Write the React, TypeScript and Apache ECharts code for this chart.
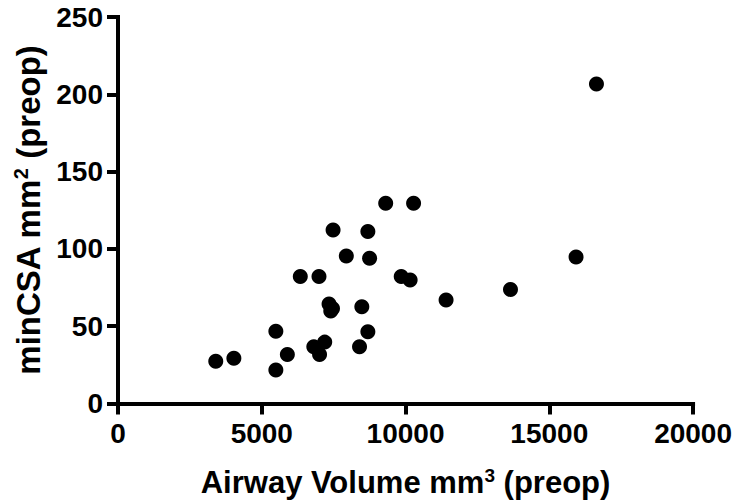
import React, { useEffect, useRef } from "react";
import * as echarts from "echarts";

const airwayVolume = [
  3400, 4030, 5490, 5490, 5890, 6340, 6990, 6810, 7190, 7010,
  7340, 7400, 7460, 7480, 7940, 8480, 8400, 8690, 8690, 8750,
  9310, 10280, 9850, 10160, 11410, 13650, 15930, 16640,
];
const minCSA = [
  27.4, 29.3, 46.8, 21.6, 31.7, 82.1, 82.1, 36.7, 39.7, 31.7,
  64.4, 59.9, 61.5, 112.2, 95.4, 62.6, 36.7, 46.4, 111.2, 93.9,
  129.5, 129.5, 82.1, 79.9, 66.9, 73.8, 94.8, 206.6,
];
const xTicks = { min: 0, max: 20000, interval: 5000 };
const yTicks = { min: 0, max: 250, interval: 50 };

const FONT = '"Liberation Sans", Arial, Helvetica, sans-serif';

export default function App() {
  const ref = useRef<HTMLDivElement>(null);
  useEffect(() => {
    if (!ref.current) return;
    const chart = echarts.init(ref.current, undefined, { renderer: "svg" });
    const points = airwayVolume.map((x, i) => [x, minCSA[i]]);
    const axisCommon = {
      axisLine: { show: true, onZero: false, lineStyle: { color: "#000", width: 4, cap: "square" } },
      axisTick: { show: true, length: 11, lineStyle: { color: "#000", width: 4 } },
      splitLine: { show: false },
      axisLabel: {
        color: "#000",
        fontFamily: FONT,
        fontWeight: "bold",
        fontSize: 28,
        formatter: (v: number) => String(v),
      },
    };
    const richX = {
      a: { fontFamily: FONT, fontWeight: "bold", fontSize: 31, color: "#000", lineHeight: 34 },
      s: { fontFamily: FONT, fontWeight: "bold", fontSize: 19, color: "#000", lineHeight: 34, verticalAlign: "top" },
    };
    const richY = {
      a: { fontFamily: FONT, fontWeight: "bold", fontSize: 33, color: "#000", lineHeight: 36 },
      s: { fontFamily: FONT, fontWeight: "bold", fontSize: 20, color: "#000", lineHeight: 36, verticalAlign: "top" },
    };
    chart.setOption({
      animation: false,
      backgroundColor: "#fff",
      grid: { left: 118, right: 41, top: 17, bottom: 99, containLabel: false },
      xAxis: {
        type: "value",
        ...xTicks,
        ...axisCommon,
        axisLabel: { ...axisCommon.axisLabel, margin: 16 },
        name: "{a|Airway Volume mm}{s|3}{a| (preop)}",
        nameLocation: "middle",
        nameGap: 62,
        nameTextStyle: { rich: richX },
      },
      yAxis: {
        type: "value",
        ...yTicks,
        ...axisCommon,
        axisLabel: { ...axisCommon.axisLabel, margin: 15 },
        name: "{a|minCSA mm}{s|2}{a| (preop)}",
        nameLocation: "middle",
        nameGap: 62,
        nameTextStyle: { rich: richY },
      },
      series: [
        {
          type: "scatter",
          data: points,
          symbol: "circle",
          symbolSize: 15,
          itemStyle: { color: "#000", opacity: 1 },
        },
      ],
    });
    return () => chart.dispose();
  }, []);
  return <div ref={ref} style={{ width: 735, height: 503, position: "absolute", left: 0, top: 0 }} />;
}
